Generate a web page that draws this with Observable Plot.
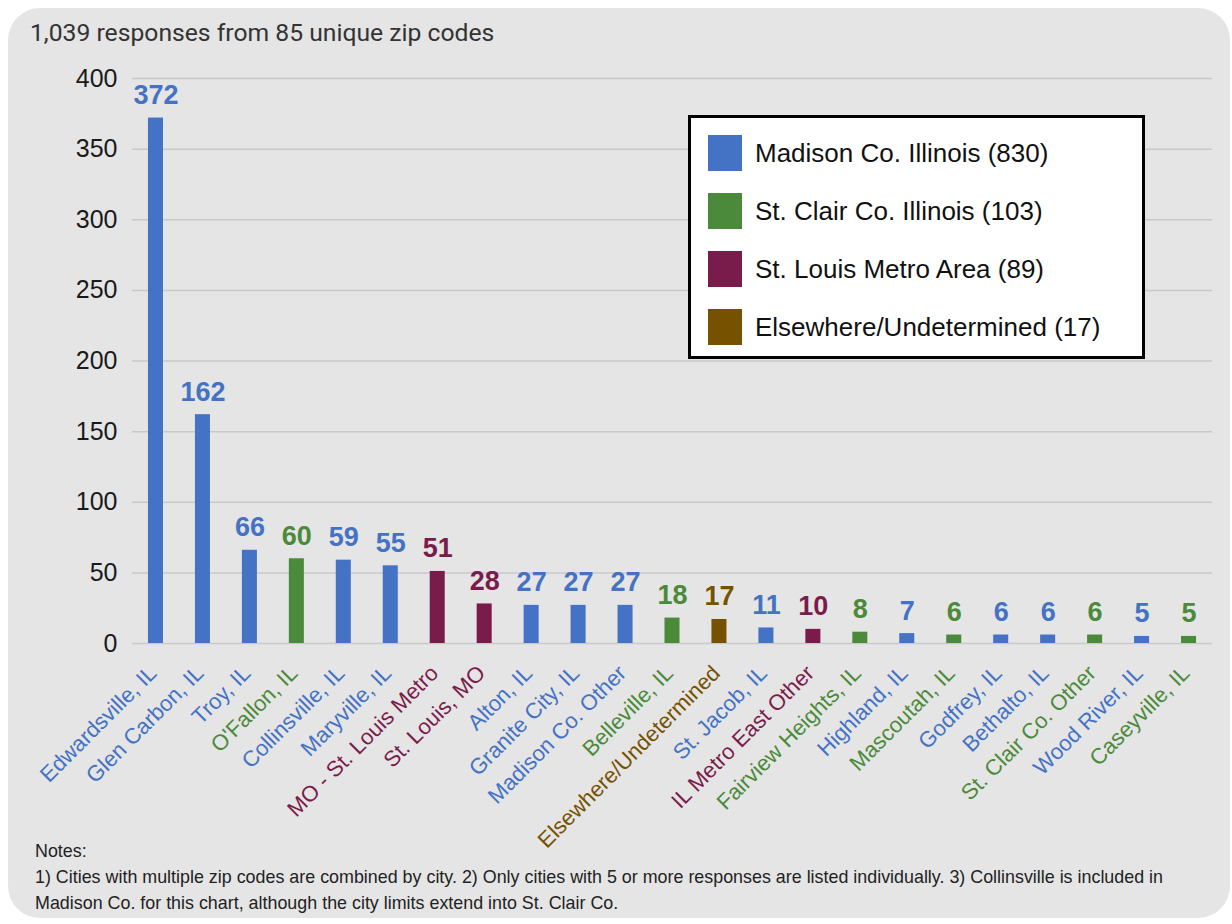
<!DOCTYPE html>
<html>
<head>
<meta charset="utf-8">
<script src="https://cdn.jsdelivr.net/npm/d3@7"></script>
<script src="https://cdn.jsdelivr.net/npm/@observablehq/plot@0.6"></script>
<style>
  html, body { margin: 0; padding: 0; background: #ffffff; }
  #page { position: relative; width: 1232px; height: 924px; overflow: hidden; font-family: "Liberation Sans", Arial, sans-serif; }
  #panel { position: absolute; left: 8px; top: 8px; width: 1222px; height: 910px; background: #e5e5e5; border-radius: 32px; }
  #title { position: absolute; left: 30px; top: 18px; font-family: Roboto, sans-serif; font-size: 24.7px; color: #333; white-space: nowrap; }
  #chart { position: absolute; left: 0; top: 0; }
  #legend { position: absolute; left: 688px; top: 115px; width: 451px; height: 238px; background: #fff; border: 3px solid #000; }
  .item { position: absolute; left: 17px; height: 36px; display: flex; align-items: center; font-size: 26px; color: #111; white-space: nowrap; }
  .sw { width: 34px; height: 36px; margin-right: 13px; }
  #notes { position: absolute; left: 35px; top: 838px; font-family: "Liberation Sans", Arial, sans-serif; font-size: 19px; line-height: 26px; color: #222; white-space: nowrap; transform-origin: 0 0; }
  #notes div { display: block; }
  #notes span { display: inline-block; }
</style>
</head>
<body>
<div id="page">
  <div id="panel"></div>
  <div id="title"></div>
  <div id="chart"></div>
  <div id="legend"></div>
  <div id="notes"></div>
</div>
<script>
const titleText = "1,039 responses from 85 unique zip codes";
const cities = ["Edwardsville, IL", "Glen Carbon, IL", "Troy, IL", "O'Fallon, IL", "Collinsville, IL", "Maryville, IL", "MO - St. Louis Metro", "St. Louis, MO", "Alton, IL", "Granite City, IL", "Madison Co. Other", "Belleville, IL", "Elsewhere/Undetermined", "St. Jacob, IL", "IL Metro East Other", "Fairview Heights, IL", "Highland, IL", "Mascoutah, IL", "Godfrey, IL", "Bethalto, IL", "St. Clair Co. Other", "Wood River, IL", "Caseyville, IL"];
const values = [372, 162, 66, 60, 59, 55, 51, 28, 27, 27, 27, 18, 17, 11, 10, 8, 7, 6, 6, 6, 6, 5, 5];
const regionOf = ["M", "M", "M", "S", "M", "M", "L", "L", "M", "M", "M", "S", "E", "M", "L", "S", "M", "S", "M", "M", "S", "M", "S"];
const regionKeys = ["M", "S", "L", "E"];
const regionLabels = ["Madison Co. Illinois (830)", "St. Clair Co. Illinois (103)", "St. Louis Metro Area (89)", "Elsewhere/Undetermined (17)"];
const regionColors = ["#4472c4", "#4b8a3a", "#7a1c4b", "#765200"];
const yTicks = [0, 50, 100, 150, 200, 250, 300, 350, 400];
const notesLines = ["Notes:", "1) Cities with multiple zip codes are combined by city. 2) Only cities with 5 or more responses are listed individually. 3) Collinsville is included in", "Madison Co. for this chart, although the city limits extend into St. Clair Co."];

const data = cities.map((c, i) => ({city: c, value: values[i], region: regionOf[i]}));

document.getElementById("title").textContent = titleText;

const chart = Plot.plot({
  width: 1232,
  height: 880,
  marginTop: 78,
  marginBottom: 237,
  marginLeft: 132,
  marginRight: 20,
  style: {background: "transparent", fontFamily: "Liberation Sans, Arial, sans-serif"},
  x: {domain: cities, paddingInner: 0.68, paddingOuter: 0.34, round: false, axis: null},
  y: {domain: [0, 400], axis: null, label: null},
  color: {domain: regionKeys, range: regionColors},
  marks: [
    Plot.gridY(yTicks, {stroke: "#c9c9c9", strokeOpacity: 1, strokeWidth: 1.5}),
    Plot.axisY(yTicks, {label: null, tickSize: 0, tickPadding: 15, fontSize: 25, fill: "#1a1a1a", tickFormat: d => String(d)}),
    Plot.barY(data, {x: "city", y: "value", fill: "region"}),
    Plot.text(data, {x: "city", y: "value", text: d => String(d.value), fill: "region", lineAnchor: "bottom", dy: -14, fontSize: 27, fontWeight: "bold"}),
    Plot.text(data, {x: "city", frameAnchor: "bottom", text: "city", fill: "region", rotate: -45, textAnchor: "end", lineAnchor: "middle", dx: -3, dy: 26, fontSize: 22})
  ]
});
document.getElementById("chart").appendChild(chart);

const legend = document.getElementById("legend");
regionLabels.forEach((lab, i) => {
  const it = document.createElement("div");
  it.className = "item";
  it.style.top = (17 + i * 58) + "px";
  const sw = document.createElement("div");
  sw.className = "sw";
  sw.style.background = regionColors[i];
  const t = document.createElement("span");
  t.textContent = lab;
  it.appendChild(sw);
  it.appendChild(t);
  legend.appendChild(it);
});

const notes = document.getElementById("notes");
const spans = notesLines.map(l => {
  const d = document.createElement("div");
  const s = document.createElement("span");
  s.textContent = l;
  d.appendChild(s);
  notes.appendChild(d);
  return s;
});
const w = spans[1].getBoundingClientRect().width;
const k = 1128 / w;
notes.style.transform = `scaleX(${k})`;
</script>
</body>
</html>
